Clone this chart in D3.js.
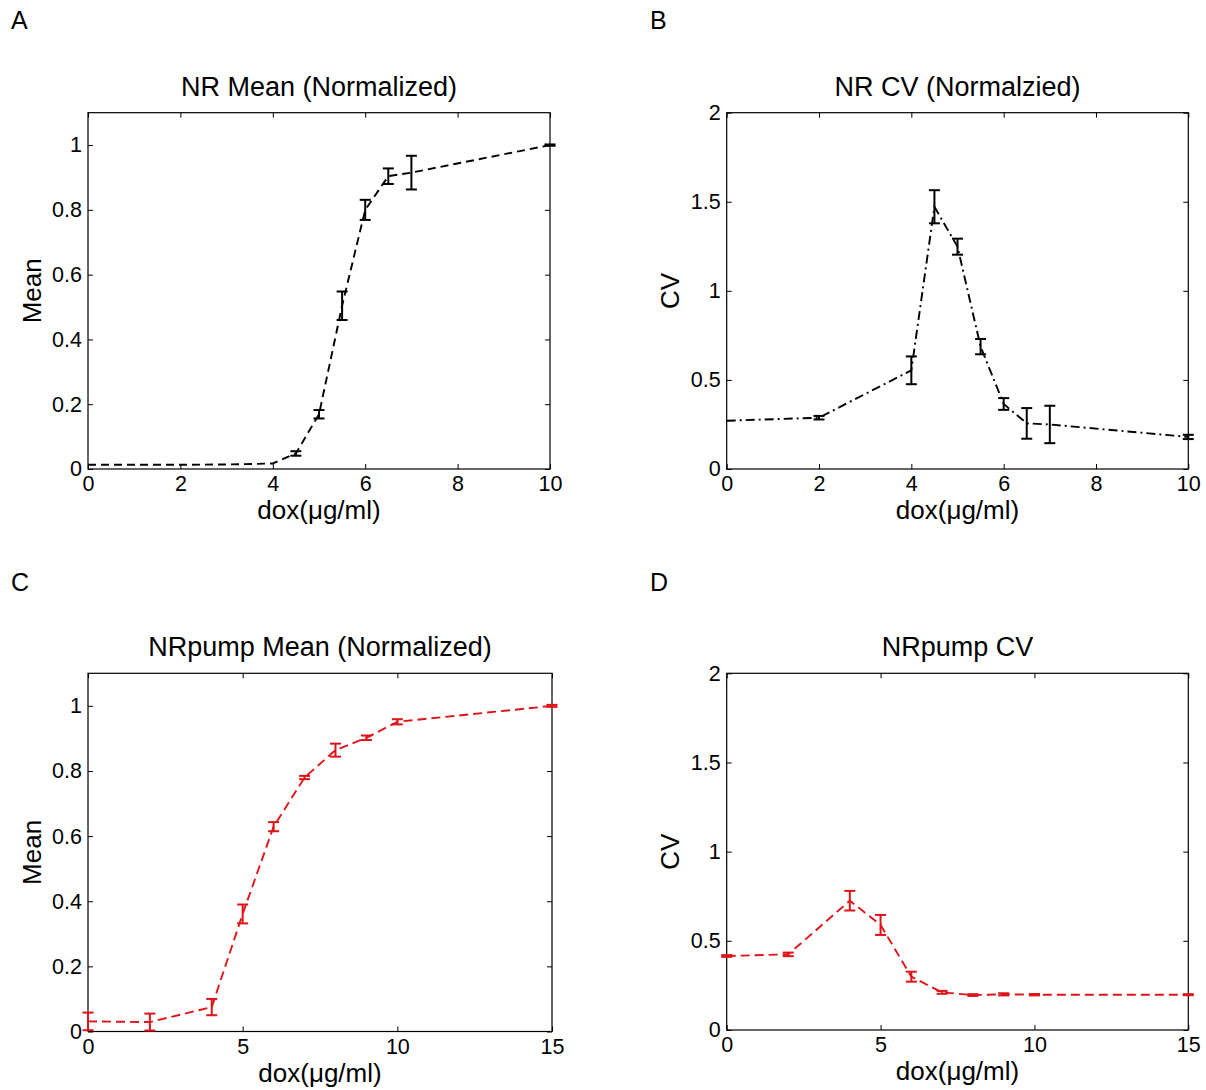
<!DOCTYPE html>
<html>
<head>
<meta charset="utf-8">
<script src="https://cdn.jsdelivr.net/npm/d3@7"></script>
<style>
  body { margin: 0; background: #fff; }
  text { font-family: "Liberation Sans", Arial, sans-serif; fill: #000; }
</style>
</head>
<body>
<svg id="fig" width="1206" height="1090"></svg>
<script>
// Dose series (dox, µg/ml) and measured values with error half-widths
const nrDose      = [0, 2, 3, 4, 4.5, 5, 5.5, 6, 6.5, 7, 10];
const nrMean      = [0.013, 0.013, 0.014, 0.017, 0.048, 0.169, 0.504, 0.800, 0.904, 0.915, 1.000];
const nrMeanErr   = [0, 0, 0, 0, 0.007, 0.013, 0.044, 0.031, 0.024, 0.052, 0.002];

const nrCvDose    = [0, 2, 4, 4.5, 5, 5.5, 6, 6.5, 7, 10];
const nrCv        = [0.271, 0.288, 0.554, 1.472, 1.248, 0.687, 0.365, 0.256, 0.250, 0.180];
const nrCvErr     = [0, 0.010, 0.078, 0.093, 0.045, 0.043, 0.033, 0.086, 0.105, 0.012];

const pumpDose    = [0, 2, 4, 5, 6, 7, 8, 9, 10, 15];
const pumpMean    = [0.031, 0.029, 0.075, 0.361, 0.629, 0.780, 0.864, 0.902, 0.951, 1.000];
const pumpMeanErr = [0.027, 0.026, 0.025, 0.029, 0.014, 0.005, 0.020, 0.007, 0.008, 0.003];

const pumpCv      = [0.415, 0.424, 0.725, 0.589, 0.299, 0.211, 0.196, 0.200, 0.198, 0.198];
const pumpCvErr   = [0.005, 0.010, 0.055, 0.056, 0.028, 0.008, 0.005, 0.006, 0.004, 0.003];

// Tick values
const xTicks10   = [0, 2, 4, 6, 8, 10];
const xTicks15   = [0, 5, 10, 15];
const yTicksMean = [0, 0.2, 0.4, 0.6, 0.8, 1];
const yTicksCv   = [0, 0.5, 1, 1.5, 2];

const svg = d3.select("#fig");
const fmt = d3.format("~g");
const RED = "#df1419";

function panel(p) {
  const x = d3.scaleLinear().domain(p.xDomain).range([p.left, p.right]);
  const y = d3.scaleLinear().domain(p.yDomain).range([p.bottom, p.top]);
  const g = svg.append("g");

  // panel letter
  g.append("text").attr("x", p.letterX).attr("y", p.letterY)
    .attr("font-size", 25).text(p.letter);

  // title
  g.append("text").attr("x", (p.left + p.right) / 2).attr("y", p.top - 17)
    .attr("text-anchor", "middle").attr("font-size", 27).text(p.title);

  // axes with inward ticks on all four sides
  const tk = 5;
  const bottom = g.append("g").attr("transform", `translate(0,${p.bottom})`)
    .call(d3.axisBottom(x).tickValues(p.xTicks).tickFormat(fmt)
      .tickSizeInner(-tk).tickSizeOuter(0).tickPadding(7));
  const left = g.append("g").attr("transform", `translate(${p.left},0)`)
    .call(d3.axisLeft(y).tickValues(p.yTicks).tickFormat(fmt)
      .tickSizeInner(-tk).tickSizeOuter(0).tickPadding(6));
  const top = g.append("g").attr("transform", `translate(0,${p.top})`)
    .call(d3.axisTop(x).tickValues(p.xTicks).tickFormat("")
      .tickSizeInner(-tk).tickSizeOuter(0));
  const right = g.append("g").attr("transform", `translate(${p.right},0)`)
    .call(d3.axisRight(y).tickValues(p.yTicks).tickFormat("")
      .tickSizeInner(-tk).tickSizeOuter(0));
  [bottom, left, top, right].forEach(a => {
    a.select(".domain").remove();
    a.selectAll(".tick line").attr("stroke", "#000");
    a.selectAll("text").attr("font-size", 21.5)
      .attr("font-family", "'Liberation Sans', Arial, sans-serif");
  });

  // box
  g.append("rect").attr("x", p.left).attr("y", p.top)
    .attr("width", p.right - p.left).attr("height", p.bottom - p.top)
    .attr("fill", "none").attr("stroke", "#000").attr("stroke-width", 1.2);

  // axis labels
  g.append("text").attr("x", (p.left + p.right) / 2).attr("y", p.bottom + 50)
    .attr("text-anchor", "middle").attr("font-size", 26).text("dox(μg/ml)");
  g.append("text")
    .attr("transform", `translate(${p.yLabelX},${(p.top + p.bottom) / 2}) rotate(-90)`)
    .attr("text-anchor", "middle").attr("font-size", 26).text(p.yLabel);

  const pts = p.xs.map((d, i) => ({ x: d, v: p.vs[i], e: p.es[i] }));

  // connecting line
  g.append("path").datum(pts)
    .attr("d", d3.line().x(d => x(d.x)).y(d => y(d.v)))
    .attr("fill", "none").attr("stroke", p.color).attr("stroke-width", 1.9)
    .attr("stroke-dasharray", p.dash);

  // error bars
  const cap = 5.5;
  const eb = g.append("g").attr("stroke", p.color).attr("stroke-width", 2)
    .selectAll("g").data(pts.filter(d => d.e > 0)).join("g");
  eb.append("line")
    .attr("x1", d => x(d.x)).attr("x2", d => x(d.x))
    .attr("y1", d => y(d.v - d.e)).attr("y2", d => y(d.v + d.e));
  eb.append("line")
    .attr("x1", d => x(d.x) - cap).attr("x2", d => x(d.x) + cap)
    .attr("y1", d => y(d.v - d.e)).attr("y2", d => y(d.v - d.e));
  eb.append("line")
    .attr("x1", d => x(d.x) - cap).attr("x2", d => x(d.x) + cap)
    .attr("y1", d => y(d.v + d.e)).attr("y2", d => y(d.v + d.e));
}

panel({
  letter: "A", letterX: 11, letterY: 29,
  title: "NR Mean (Normalized)", yLabel: "Mean", yLabelX: 41,
  left: 88, right: 550, top: 112.7, bottom: 469,
  xDomain: [0, 10], yDomain: [0, 1.1], xTicks: xTicks10, yTicks: yTicksMean,
  xs: nrDose, vs: nrMean, es: nrMeanErr, color: "#000", dash: "8,5"
});

panel({
  letter: "B", letterX: 650, letterY: 29,
  title: "NR CV (Normalzied)", yLabel: "CV", yLabelX: 679,
  left: 726.7, right: 1188.3, top: 112.7, bottom: 469,
  xDomain: [0, 10], yDomain: [0, 2], xTicks: xTicks10, yTicks: yTicksCv,
  xs: nrCvDose, vs: nrCv, es: nrCvErr, color: "#000", dash: "9,4,2,4"
});

panel({
  letter: "C", letterX: 11, letterY: 591,
  title: "NRpump Mean (Normalized)", yLabel: "Mean", yLabelX: 41,
  left: 88, right: 552, top: 673.3, bottom: 1031.5,
  xDomain: [0, 15], yDomain: [0, 1.1], xTicks: xTicks15, yTicks: yTicksMean,
  xs: pumpDose, vs: pumpMean, es: pumpMeanErr, color: RED, dash: "9,5"
});

panel({
  letter: "D", letterX: 650, letterY: 591,
  title: "NRpump CV", yLabel: "CV", yLabelX: 679,
  left: 726.7, right: 1188.3, top: 673.3, bottom: 1030,
  xDomain: [0, 15], yDomain: [0, 2], xTicks: xTicks15, yTicks: yTicksCv,
  xs: pumpDose, vs: pumpCv, es: pumpCvErr, color: RED, dash: "9,5"
});
</script>
</body>
</html>
